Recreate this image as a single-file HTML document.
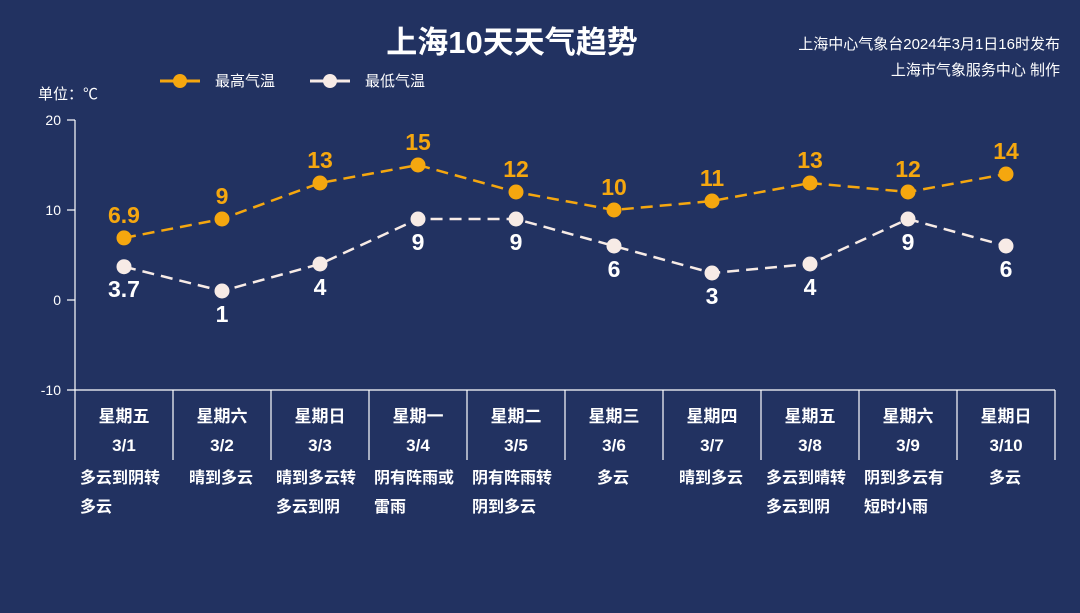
<!DOCTYPE html>
<html><head><meta charset="utf-8"><style>
html,body{margin:0;padding:0;background:#223261;}
svg{display:block;font-family:"Liberation Sans","Noto Sans CJK SC",sans-serif;}
</style></head><body>
<svg width="1080" height="613" viewBox="0 0 1080 613">
<rect width="1080" height="613" fill="#223261"/>
<text x="512" y="53" fill="#fff" font-size="31" font-weight="bold" text-anchor="middle">上海10天天气趋势</text>
<text x="1060" y="49" fill="#fff" font-size="15" text-anchor="end">上海中心气象台2024年3月1日16时发布</text>
<text x="1060" y="75" fill="#fff" font-size="15" text-anchor="end">上海市气象服务中心 制作</text>
<line x1="160" y1="81" x2="200" y2="81" stroke="#f5a70f" stroke-width="3"/><circle cx="180" cy="81" r="7" fill="#f5a70f"/>
<text x="215" y="86" fill="#fff" font-size="15">最高气温</text>
<line x1="310" y1="81" x2="350" y2="81" stroke="#f7ebe6" stroke-width="3"/><circle cx="330" cy="81" r="7" fill="#f7ebe6"/>
<text x="365" y="86" fill="#fff" font-size="15">最低气温</text>
<text x="38" y="99" fill="#fff" font-size="15">单位：℃</text>
<g fill="#fff" font-size="14" text-anchor="end">
<text x="61" y="125">20</text><text x="61" y="215">10</text><text x="61" y="305">0</text><text x="61" y="395">-10</text>
</g>
<g stroke="#fff" stroke-width="1.2">
<line x1="75" y1="120" x2="75" y2="390"/>
<line x1="67" y1="120" x2="75" y2="120"/><line x1="67" y1="210" x2="75" y2="210"/><line x1="67" y1="300" x2="75" y2="300"/>
<line x1="67" y1="390" x2="1055" y2="390"/>
<line x1="75" y1="390" x2="75" y2="460"/><line x1="173" y1="390" x2="173" y2="460"/><line x1="271" y1="390" x2="271" y2="460"/><line x1="369" y1="390" x2="369" y2="460"/><line x1="467" y1="390" x2="467" y2="460"/><line x1="565" y1="390" x2="565" y2="460"/><line x1="663" y1="390" x2="663" y2="460"/><line x1="761" y1="390" x2="761" y2="460"/><line x1="859" y1="390" x2="859" y2="460"/><line x1="957" y1="390" x2="957" y2="460"/><line x1="1055" y1="390" x2="1055" y2="460"/>
</g>
<polyline points="124,237.9 222,219 320,183 418,165 516,192 614,210 712,201 810,183 908,192 1006,174" fill="none" stroke="#f5a70f" stroke-width="2.5" stroke-dasharray="12,7"/>
<polyline points="124,266.7 222,291 320,264 418,219 516,219 614,246 712,273 810,264 908,219 1006,246" fill="none" stroke="#f7ebe6" stroke-width="2.5" stroke-dasharray="12,7"/>
<g fill="#f5a70f">
<circle cx="124" cy="237.9" r="7.5"/><circle cx="222" cy="219" r="7.5"/><circle cx="320" cy="183" r="7.5"/><circle cx="418" cy="165" r="7.5"/><circle cx="516" cy="192" r="7.5"/><circle cx="614" cy="210" r="7.5"/><circle cx="712" cy="201" r="7.5"/><circle cx="810" cy="183" r="7.5"/><circle cx="908" cy="192" r="7.5"/><circle cx="1006" cy="174" r="7.5"/>
</g>
<g fill="#f7ebe6">
<circle cx="124" cy="266.7" r="7.5"/><circle cx="222" cy="291" r="7.5"/><circle cx="320" cy="264" r="7.5"/><circle cx="418" cy="219" r="7.5"/><circle cx="516" cy="219" r="7.5"/><circle cx="614" cy="246" r="7.5"/><circle cx="712" cy="273" r="7.5"/><circle cx="810" cy="264" r="7.5"/><circle cx="908" cy="219" r="7.5"/><circle cx="1006" cy="246" r="7.5"/>
</g>
<g fill="#f5a70f" font-size="23" font-weight="bold" text-anchor="middle">
<text x="124" y="223">6.9</text><text x="222" y="204">9</text><text x="320" y="168">13</text><text x="418" y="150">15</text><text x="516" y="177">12</text><text x="614" y="195">10</text><text x="712" y="186">11</text><text x="810" y="168">13</text><text x="908" y="177">12</text><text x="1006" y="159">14</text>
</g>
<g fill="#fff" font-size="23" font-weight="bold" text-anchor="middle">
<text x="124" y="297">3.7</text><text x="222" y="322">1</text><text x="320" y="295">4</text><text x="418" y="250">9</text><text x="516" y="250">9</text><text x="614" y="277">6</text><text x="712" y="304">3</text><text x="810" y="295">4</text><text x="908" y="250">9</text><text x="1006" y="277">6</text>
</g>
<g fill="#fff" font-size="17" font-weight="bold" text-anchor="middle">
<text x="124" y="422">星期五</text><text x="222" y="422">星期六</text><text x="320" y="422">星期日</text><text x="418" y="422">星期一</text><text x="516" y="422">星期二</text><text x="614" y="422">星期三</text><text x="712" y="422">星期四</text><text x="810" y="422">星期五</text><text x="908" y="422">星期六</text><text x="1006" y="422">星期日</text>
<text x="124" y="451">3/1</text><text x="222" y="451">3/2</text><text x="320" y="451">3/3</text><text x="418" y="451">3/4</text><text x="516" y="451">3/5</text><text x="614" y="451">3/6</text><text x="712" y="451">3/7</text><text x="810" y="451">3/8</text><text x="908" y="451">3/9</text><text x="1006" y="451">3/10</text>
</g>
<g fill="#fff" font-size="16" font-weight="bold">
<text x="80" y="483">多云到阴转</text><text x="80" y="512">多云</text>
<text x="189" y="483">晴到多云</text>
<text x="276" y="483">晴到多云转</text><text x="276" y="512">多云到阴</text>
<text x="374" y="483">阴有阵雨或</text><text x="374" y="512">雷雨</text>
<text x="472" y="483">阴有阵雨转</text><text x="472" y="512">阴到多云</text>
<text x="597" y="483">多云</text>
<text x="679" y="483">晴到多云</text>
<text x="766" y="483">多云到晴转</text><text x="766" y="512">多云到阴</text>
<text x="864" y="483">阴到多云有</text><text x="864" y="512">短时小雨</text>
<text x="989" y="483">多云</text>
</g>
</svg>
</body></html>
